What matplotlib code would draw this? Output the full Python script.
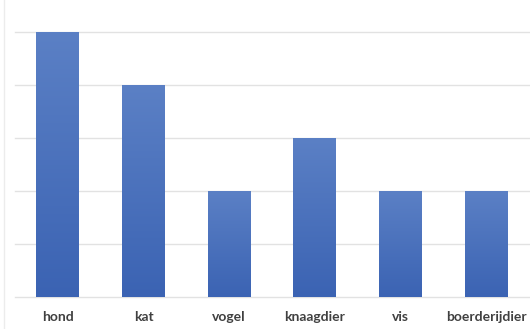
import numpy as np
import matplotlib
matplotlib.use('Agg')
import matplotlib.pyplot as plt
from matplotlib.colors import LinearSegmentedColormap

dieren = ['hond', 'kat', 'vogel', 'knaagdier', 'vis', 'boerderijdier']
aantal = [5, 4, 2, 3, 2, 2]

fig = plt.figure(figsize=(5.3, 3.29), dpi=100)
ax = fig.add_axes([15 / 530, 1 - 297 / 329, 514 / 530, 265 / 329])

x = np.arange(len(dieren))
bars = ax.bar(x, aantal, width=0.5, color='none', edgecolor='none', zorder=3)

# verloop in de balken (licht boven, donker onder)
verloop = LinearSegmentedColormap.from_list('verloop', ['#3b63b3', '#5b80c5'])
grad = np.linspace(0, 1, 256).reshape(-1, 1)
for b in bars:
    bx, by = b.get_x(), b.get_y()
    w, h = b.get_width(), b.get_height()
    im = ax.imshow(grad, cmap=verloop, origin='lower', aspect='auto',
                   extent=[bx, bx + w, by, by + h], zorder=3)
    im.set_clip_path(b)

ax.set_xlim(-0.5, len(dieren) - 0.5)
ax.set_ylim(0, 5)
ax.set_yticks(range(0, 6))
ax.yaxis.grid(True, color='#e2e2e2', linewidth=1, zorder=0)
for gl in ax.get_ygridlines():
    gl.set_clip_on(False)
ax.set_yticklabels([])
ax.tick_params(axis='y', length=0)
ax.tick_params(axis='x', length=0, pad=10)
ax.set_xticks(x)
ax.set_xticklabels(dieren, fontfamily='Lato', fontweight='bold', fontsize=10, color='#404040')
for s in ax.spines.values():
    s.set_visible(False)

# dunne rand links
fig.add_artist(plt.Line2D([4 / 530, 4 / 530], [0, 1], color='#ececec', linewidth=1))

plt.savefig('out.png', dpi=100)
